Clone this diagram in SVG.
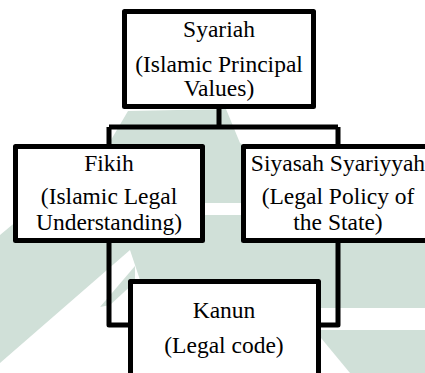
<svg xmlns="http://www.w3.org/2000/svg" width="425" height="373" viewBox="0 0 425 373">
<style>
.box{fill:#fff;stroke:#000;stroke-width:5;stroke-linejoin:round}
.con{fill:none;stroke:#000;stroke-width:5;stroke-linejoin:round}
.t{font-size:23.5px;fill:#000;text-anchor:middle}
.wm{fill:#d0e0d8}
</style>
<rect width="425" height="373" fill="#fff"/>
<g id="watermark">
<polygon class="wm" points="0,235 108,145 128,111 226,109 240,143 250,150 250,243 425,243 425,308 321,308 321,280 140,280 130,250 0,363"/>
<polygon class="wm" points="100,307 135,266 135,282 110,305"/>
<rect x="204" y="203" width="40" height="12" fill="#fff"/>
<polygon class="wm" points="321,330 425,330 425,373 350,373 321,338"/>
</g>
<g id="connectors">
<path class="con" d="M219,106.5 V127 M109,127 H338 M109,127 V146.5 M338,127 V146.5"/>
<path class="con" d="M109,240.5 V325 H130.5 M338,240.5 V325 H318.5"/>
</g>
<g font-family="'Liberation Serif', 'DejaVu Serif', 'Times New Roman', serif">
<g id="syariah">
<rect class="box" x="124.5" y="11.5" width="189" height="95"/>
<text class="t" x="219" y="37">Syariah</text>
<text class="t" x="219" y="71.5">(Islamic Principal</text>
<text class="t" x="219" y="96">Values)</text>
</g>
<g id="fikih">
<rect class="box" x="15.5" y="146.5" width="187" height="94"/>
<text class="t" x="109" y="171">Fikih</text>
<text class="t" x="109" y="204">(Islamic Legal</text>
<text class="t" x="109" y="230">Understanding)</text>
</g>
<g id="siyasah">
<rect class="box" x="243.5" y="146.5" width="200" height="94"/>
<text class="t" x="338" y="171">Siyasah Syariyyah</text>
<text class="t" x="338" y="204">(Legal Policy of</text>
<text class="t" x="338" y="230">the State)</text>
</g>
<g id="kanun">
<rect class="box" x="130.5" y="281.5" width="188" height="120"/>
<text class="t" x="224" y="318">Kanun</text>
<text class="t" x="224" y="353">(Legal code)</text>
</g>
</g>
</svg>
